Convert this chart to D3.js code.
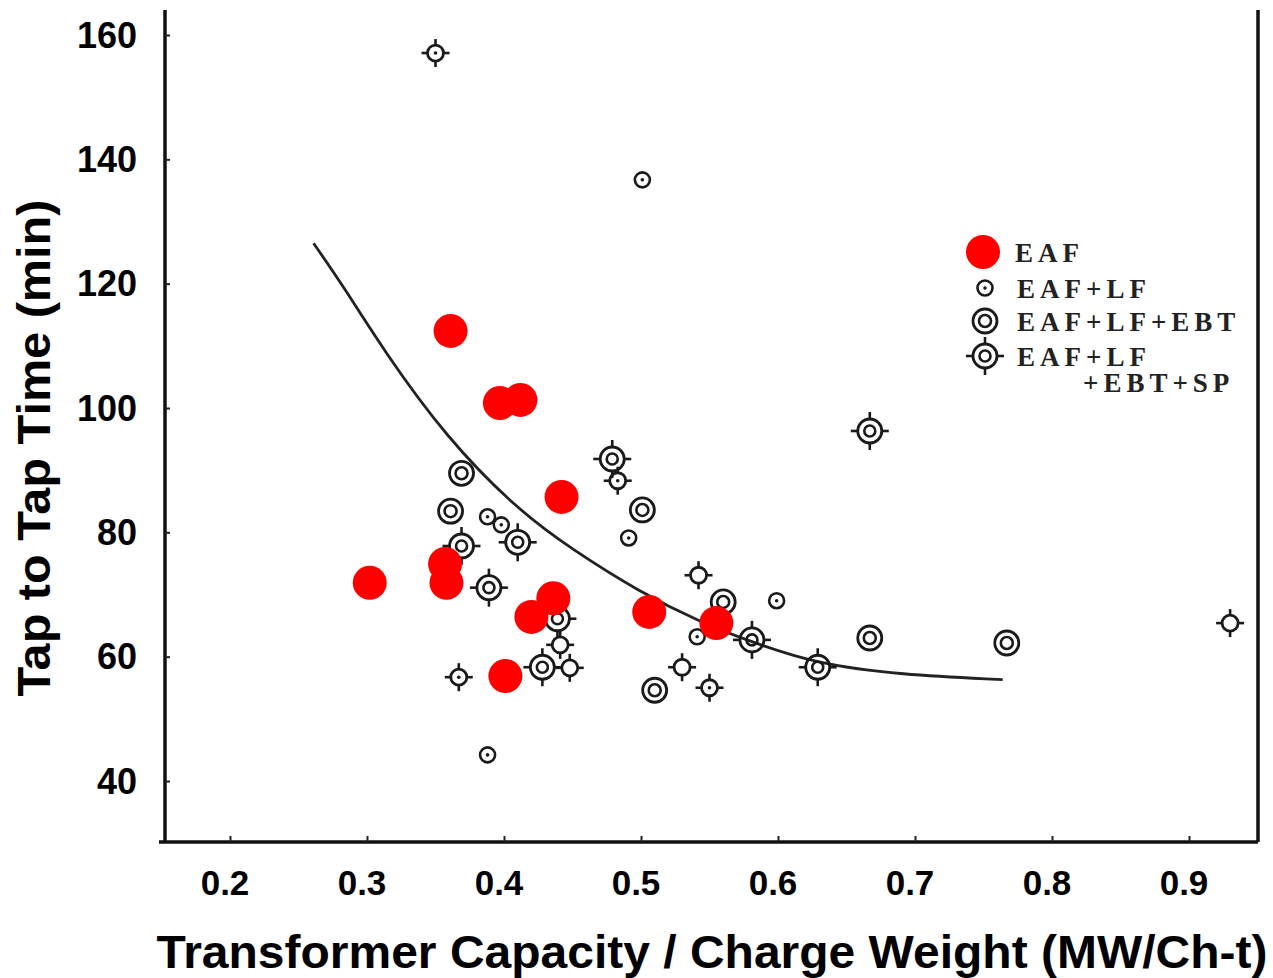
<!DOCTYPE html>
<html>
<head>
<meta charset="utf-8">
<script src="https://cdn.jsdelivr.net/npm/d3@7"></script>
<style>
  body { margin: 0; background: #fff; }
  svg { display: block; }
</style>
</head>
<body>
<svg id="chart" width="1273" height="978"></svg>
<script>
// du lieu doc tu hinh: [x, y]
const eafPts = [[0.361, 112.4], [0.397, 100.8], [0.412, 101.3], [0.442, 85.7], [0.357, 74.9], [0.358, 71.9],
    [0.302, 71.9], [0.436, 69.4], [0.420, 66.4], [0.401, 56.9], [0.506, 67.2], [0.555, 65.4]];
const lfPts = [[0.501, 136.7], [0.388, 82.5], [0.398, 81.2], [0.491, 79.1], [0.599, 69.0], [0.541, 63.2], [0.388, 44.2]];
const ebtPts = [[0.369, 89.5], [0.361, 83.4], [0.501, 83.6], [0.560, 68.8], [0.510, 54.6], [0.667, 63.0], [0.767, 62.2]];
const spPts = [[0.667, 96.3], [0.479, 91.8], [0.410, 78.4], [0.369, 77.8], [0.389, 71.1], [0.439, 66.1],
    [0.428, 58.3], [0.581, 62.7], [0.629, 58.3]];
// cac diem co gai nhung khong co trong chu giai
const otherPts = [[0.350, 157.1, 1], [0.483, 88.3, 1], [0.542, 73.1, 0], [0.441, 61.9, 0], [0.448, 58.2, 0],
    [0.367, 56.7, 1], [0.530, 58.3, 0], [0.550, 55.0, 1], [0.930, 65.4, 0]];
// duong cong xu huong
const curvePts = [[0.261, 126.5], [0.283, 119.5], [0.312, 109.3], [0.358, 95.2], [0.410, 83.6], [0.450, 77.2],
    [0.499, 70.4], [0.543, 65.6], [0.580, 62.4], [0.629, 58.8], [0.689, 57.1], [0.764, 56.3]];
const xTicks = [0.2, 0.3, 0.4, 0.5, 0.6, 0.7, 0.8, 0.9];
const yTicks = [40, 60, 80, 100, 120, 140, 160];
const legendNames = ["EAF", "EAF+LF", "EAF+LF+EBT", "EAF+LF", "+EBT+SP"];

const svg = d3.select("#chart");
const pLeft = 165, pRight = 1258, pTop = 10, pBottom = 842;

const x = d3.scaleLinear().domain([0.2, 0.9]).range([230, 1189]);
const y = d3.scaleLinear().domain([40, 160]).range([781, 35]);

// khung
const frame = svg.append("g").attr("stroke", "#111").attr("stroke-width", 3.5).attr("fill", "none");
frame.append("line").attr("x1", pLeft).attr("y1", pTop).attr("x2", pLeft).attr("y2", pBottom);
frame.append("line").attr("x1", pLeft - 6).attr("y1", pBottom).attr("x2", pRight).attr("y2", pBottom);
frame.append("line").attr("x1", pRight).attr("y1", pTop).attr("x2", pRight).attr("y2", pBottom);

// truc
const xAxis = svg.append("g").attr("transform", "translate(0," + pBottom + ")")
    .call(d3.axisTop(x).tickValues(xTicks).tickSize(6).tickFormat(""));
xAxis.select(".domain").remove();
xAxis.selectAll("line").attr("stroke", "#222").attr("stroke-width", 2);

const yAxis = svg.append("g").attr("transform", "translate(" + pLeft + ",0)")
    .call(d3.axisRight(y).tickValues(yTicks).tickSize(5).tickFormat(""));
yAxis.select(".domain").remove();
yAxis.selectAll("line").attr("stroke", "#222").attr("stroke-width", 2);

// nhan truc
svg.append("g").selectAll("text").data(xTicks).join("text")
    .attr("x", d => x(d) - 5)
    .attr("y", 883)
    .attr("dy", "0.35em")
    .attr("text-anchor", "middle")
    .attr("font-family", "Liberation Sans, Arial, sans-serif")
    .attr("font-weight", "bold")
    .attr("font-size", 35)
    .text(d => d3.format(".1f")(d));

svg.append("g").selectAll("text").data(yTicks).join("text")
    .attr("x", 137)
    .attr("y", d => y(d))
    .attr("dy", "0.35em")
    .attr("text-anchor", "end")
    .attr("font-family", "Liberation Sans, Arial, sans-serif")
    .attr("font-weight", "bold")
    .attr("font-size", 36)
    .text(d => d);

svg.append("text")
    .attr("x", 712)
    .attr("y", 968)
    .attr("text-anchor", "middle")
    .attr("font-family", "Liberation Sans, Arial, sans-serif")
    .attr("font-weight", "bold")
    .attr("font-size", 46)
    .attr("textLength", 1111)
    .attr("lengthAdjust", "spacingAndGlyphs")
    .text("Transformer Capacity / Charge Weight (MW/Ch-t)");

svg.append("text")
    .attr("transform", "translate(50,448) rotate(-90)")
    .attr("text-anchor", "middle")
    .attr("font-family", "Liberation Sans, Arial, sans-serif")
    .attr("font-weight", "bold")
    .attr("font-size", 46)
    .attr("textLength", 497)
    .attr("lengthAdjust", "spacingAndGlyphs")
    .text("Tap to Tap Time (min)");

// duong cong
const line = d3.line().x(d => x(d[0])).y(d => y(d[1])).curve(d3.curveBasis);
svg.append("path")
    .datum(curvePts)
    .attr("d", line)
    .attr("fill", "none")
    .attr("stroke", "#222")
    .attr("stroke-width", 2.8);

// cac ham ve ky hieu
let ring = (g, r, w) => {
    g.append("circle").attr("r", r).attr("fill", "none").attr("stroke", "#1a1a1a").attr("stroke-width", w);
};
let spikes = (g, r1, r2) => {
    [[1, 0], [-1, 0], [0, 1], [0, -1]].forEach(s => {
        g.append("line")
            .attr("x1", s[0] * r1).attr("y1", s[1] * r1)
            .attr("x2", s[0] * r2).attr("y2", s[1] * r2)
            .attr("stroke", "#1a1a1a").attr("stroke-width", 2.6);
    });
};
let drawLF = (g) => {
    ring(g, 7.5, 2.6);
    g.append("circle").attr("r", 1.8).attr("fill", "#1a1a1a");
};
let drawEBT = (g) => {
    ring(g, 12, 2.8);
    ring(g, 6, 2.6);
};
let drawSP = (g) => {
    ring(g, 12, 2.8);
    ring(g, 5.5, 2.6);
    spikes(g, 12, 19);
};
let drawOther = (g, dot) => {
    ring(g, 8, 2.8);
    spikes(g, 8, 14);
    if (dot) g.append("circle").attr("r", 1.8).attr("fill", "#1a1a1a");
};
let drawEAF = (g) => {
    g.append("circle").attr("r", 17).attr("fill", "#ff0000");
};

let plot = (data, fn) => {
    svg.append("g").selectAll("g").data(data).join("g")
        .attr("transform", d => "translate(" + x(d[0]) + "," + y(d[1]) + ")")
        .each(function (d) { fn(d3.select(this), d[2]); });
};
plot(lfPts, drawLF);
plot(ebtPts, drawEBT);
plot(spPts, drawSP);
plot(otherPts, drawOther);
plot(eafPts, drawEAF);

// chu giai
const leg = svg.append("g");
const legSyms = [drawEAF, drawLF, drawEBT, drawSP];
const legY = [252, 288, 321, 356];
legSyms.forEach((fn, i) => {
    fn(leg.append("g").attr("transform", "translate(" + (i === 0 ? 983 : 985) + "," + legY[i] + ")"));
});
const legText = [[1015, 262], [1017, 298], [1017, 331], [1017, 366], [1083, 392]];
leg.selectAll("text").data(legendNames).join("text")
    .attr("x", (d, i) => legText[i][0])
    .attr("y", (d, i) => legText[i][1])
    .attr("font-family", "Liberation Serif, DejaVu Serif, serif")
    .attr("font-weight", "bold")
    .attr("font-size", 27)
    .attr("letter-spacing", 5)
    .attr("fill", "#222")
    .text(d => d);
</script>
</body>
</html>
